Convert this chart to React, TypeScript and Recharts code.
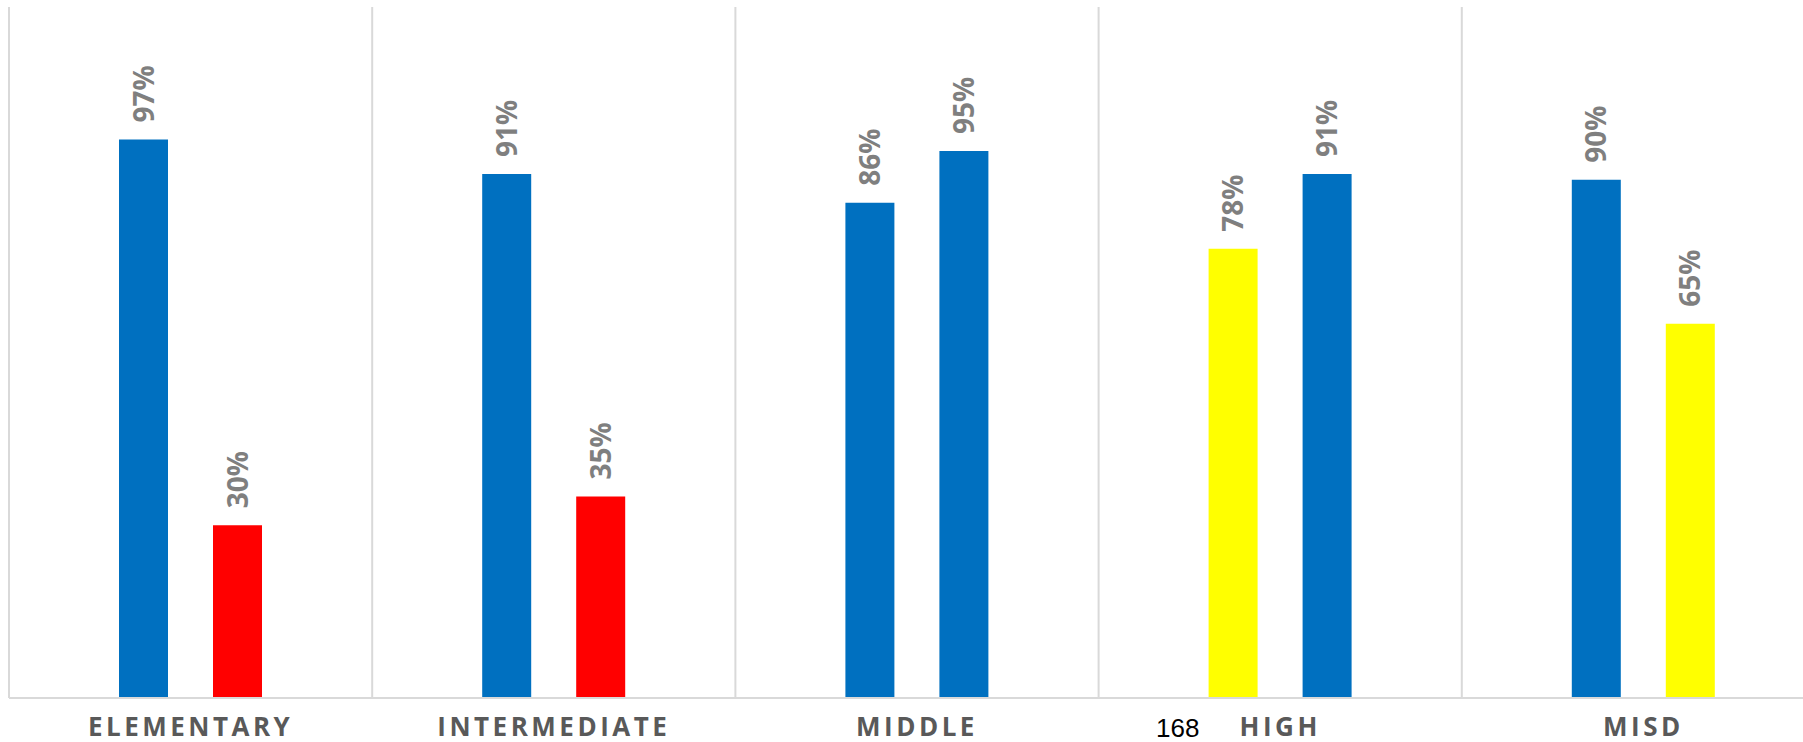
import { BarChart, Bar, XAxis, YAxis, CartesianGrid, LabelList, Cell } from "recharts";

const categories = ["ELEMENTARY", "INTERMEDIATE", "MIDDLE", "HIGH", "MISD"];
const firstValues = [97, 91, 86, 78, 90];
const secondValues = [30, 35, 95, 91, 65];
const pageNumber = "168";

const data = categories.map((name, i) => ({ name, first: firstValues[i], second: secondValues[i] }));

// conditional colouring: on target / close / low
const colorFor = (v: number) => (v >= 80 ? "#0070C0" : v >= 60 ? "#FFFF00" : "#FF0000");

const ValueLabel = (props: any) => {
  const { x, y, width, value } = props;
  const cx = x + width / 2;
  const ty = y - 17;
  return (
    <text
      x={cx}
      y={ty}
      dy="0.36em"
      transform={`rotate(-90, ${cx}, ${ty})`}
      textAnchor="start"
      fill="#7F7F7F"
      fontFamily="'Open Sans', sans-serif"
      fontWeight={700}
      fontSize={28}
    >
      {value}%
    </text>
  );
};

const CategoryTick = (props: any) => {
  const { x, y, payload } = props;
  return (
    <text
      x={x}
      y={y + 38}
      textAnchor="middle"
      fill="#595959"
      fontFamily="'Open Sans', sans-serif"
      fontWeight={700}
      fontSize={26}
      letterSpacing={3.5}
    >
      {payload.value}
    </text>
  );
};

export default function App() {
  return (
    <div style={{ position: "fixed", left: 0, top: 0, width: 1803, height: 742, overflow: "hidden", background: "#fff" }}>
      <BarChart
        width={1833}
        height={742}
        data={data}
        margin={{ top: 7, right: 8, bottom: 0, left: 9 }}
        barSize={49}
        barGap={45}
      >
        <CartesianGrid
          horizontal={false}
          stroke="#D9D9D9"
          strokeWidth={2}
          verticalCoordinatesGenerator={({ offset }: any) =>
            categories.map((_, i) => offset.left + (i * offset.width) / categories.length)
          }
        />
        <XAxis
          dataKey="name"
          height={44}
          tickLine={false}
          tickSize={0}
          tickMargin={0}
          axisLine={{ stroke: "#D9D9D9", strokeWidth: 2 }}
          tick={<CategoryTick />}
          interval={0}
        />
        <YAxis hide domain={[0, 120]} />
        <Bar dataKey="first" name="Series 1" isAnimationActive={false}>
          {data.map((d) => (
            <Cell key={d.name} fill={colorFor(d.first)} />
          ))}
          <LabelList dataKey="first" content={<ValueLabel />} />
        </Bar>
        <Bar dataKey="second" name="Series 2" isAnimationActive={false}>
          {data.map((d) => (
            <Cell key={d.name} fill={colorFor(d.second)} />
          ))}
          <LabelList dataKey="second" content={<ValueLabel />} />
        </Bar>
      </BarChart>
      <div
        style={{
          position: "absolute",
          left: 1156,
          top: 713,
          fontFamily: "'Liberation Sans', Arial, sans-serif",
          fontSize: 26,
          lineHeight: "30px",
          color: "#000",
        }}
      >
        {pageNumber}
      </div>
    </div>
  );
}
